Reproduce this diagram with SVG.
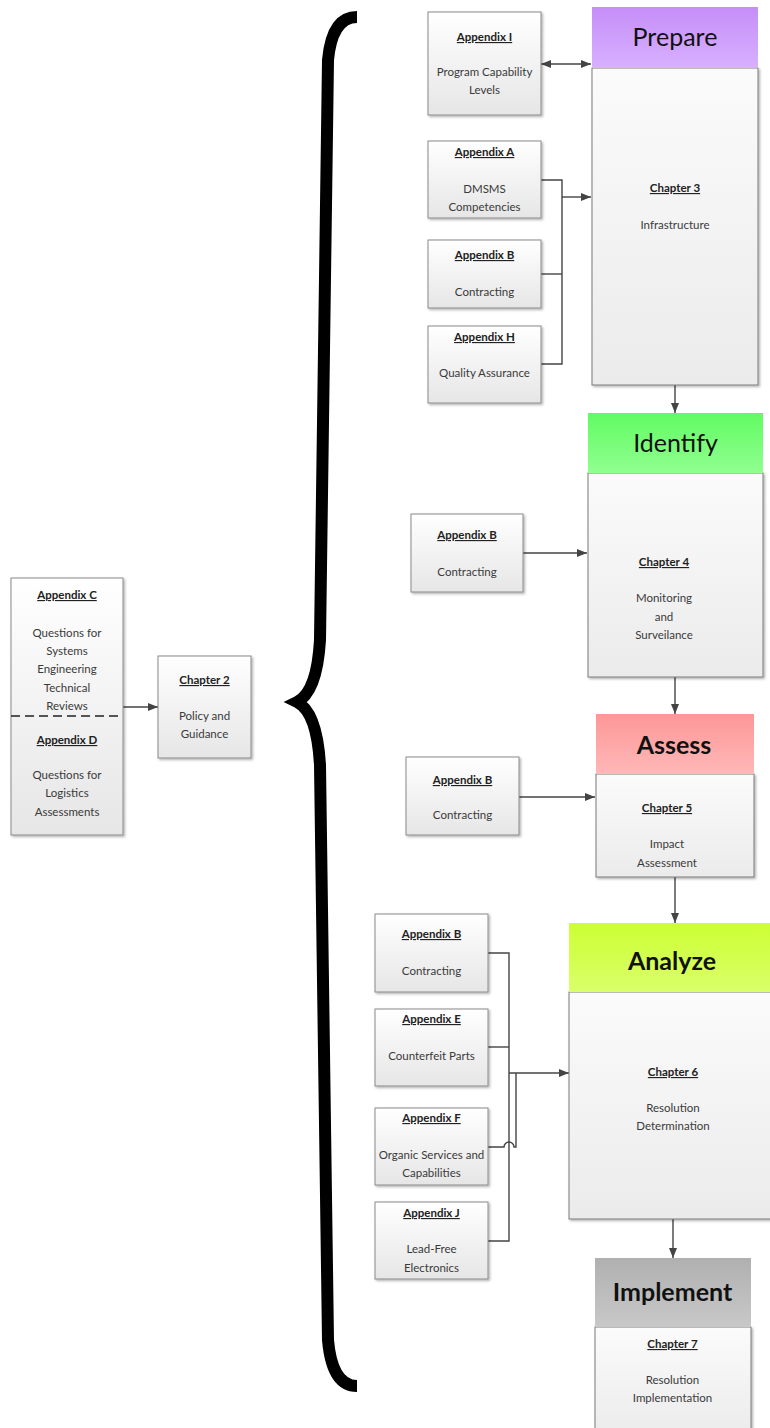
<svg xmlns="http://www.w3.org/2000/svg" width="770" height="1428" viewBox="0 0 770 1428">
<style>
.box{stroke:#8a8a8a;stroke-width:1;fill:url(#gBox);filter:url(#sh)}
.body{stroke:#7a7a7a;stroke-width:1;fill:url(#gBody);filter:url(#sh)}
text{font-family:Lato,"Open Sans","Liberation Sans",sans-serif;fill:#3a3a3a;text-anchor:middle;font-size:11.5px}
.t{font-weight:bold;text-decoration:underline;fill:#222}
.h{font-size:25px;fill:#111}
.hb{font-size:25px;font-weight:bold;fill:#111}
.c{fill:none;stroke:#444;stroke-width:1.4}
.a{marker-end:url(#ar)}
</style>
<defs>
<linearGradient id="gBox" x1="0" y1="0" x2="0" y2="1"><stop offset="0" stop-color="#ffffff"/><stop offset="1" stop-color="#e6e6e6"/></linearGradient>
<linearGradient id="gBody" x1="0" y1="0" x2="0" y2="1"><stop offset="0" stop-color="#fbfbfb"/><stop offset="1" stop-color="#ebebeb"/></linearGradient>
<linearGradient id="gP" x1="0" y1="0" x2="0" y2="1"><stop offset="0" stop-color="#c58ef8"/><stop offset="1" stop-color="#d8b0ff"/></linearGradient>
<linearGradient id="gI" x1="0" y1="0" x2="0" y2="1"><stop offset="0" stop-color="#62fb62"/><stop offset="1" stop-color="#90ff90"/></linearGradient>
<linearGradient id="gA" x1="0" y1="0" x2="0" y2="1"><stop offset="0" stop-color="#fd9797"/><stop offset="1" stop-color="#ffb8b8"/></linearGradient>
<linearGradient id="gN" x1="0" y1="0" x2="0" y2="1"><stop offset="0" stop-color="#ccff33"/><stop offset="1" stop-color="#daff6a"/></linearGradient>
<linearGradient id="gM" x1="0" y1="0" x2="0" y2="1"><stop offset="0" stop-color="#b0b0b0"/><stop offset="1" stop-color="#c8c8c8"/></linearGradient>
<filter id="sh" x="-10%" y="-10%" width="130%" height="130%"><feDropShadow dx="1.5" dy="1.5" stdDeviation="1" flood-color="#000" flood-opacity="0.3"/></filter>
<marker id="ar" viewBox="0 0 10 8" refX="10" refY="4" markerWidth="10" markerHeight="8" markerUnits="userSpaceOnUse" orient="auto-start-reverse"><path d="M0,0 L10,4 L0,8 z" fill="#444"/></marker>
</defs>
<rect width="770" height="1428" fill="#ffffff"/>

<g id="brace"><path d="M357,17 Q332,17 328,60 L320,640 Q317,692 297,702 Q317,712 320,765 L328,1340 Q332,1386 357,1386" fill="none" stroke="#000" stroke-width="12"/></g>

<g id="connectors">
<path class="c" d="M541,64 H591" marker-start="url(#ar)" marker-end="url(#ar)"/>
<path class="c" d="M541,180 H562 V364 H541"/>
<path class="c" d="M541,274 H562"/>
<path class="c a" d="M562,197 H591"/>
<path class="c a" d="M675,385 V413"/>
<path class="c a" d="M523,553 H587"/>
<path class="c a" d="M675,677 V714"/>
<path class="c a" d="M519,797 H595"/>
<path class="c a" d="M675,877 V923"/>
<path class="c" d="M488,953 H509 V1241 H488"/>
<path class="c" d="M488,1047 H509"/>
<path class="c" d="M488,1147 H504 A5,5 0 0 1 514,1147 H516 V1073"/>
<path class="c a" d="M509,1073 H569"/>
<path class="c a" d="M673,1219 V1258"/>
<path class="c a" d="M123,707 H158"/>
</g>

<g id="prepare">
<rect class="body" x="592" y="68" width="166" height="317"/>
<rect x="592" y="7" width="166" height="61" fill="url(#gP)"/>
<text class="h" x="675" y="46">Prepare</text>
<text class="t" x="675" y="192">Chapter 3</text>
<text x="675" y="229">Infrastructure</text>
</g>
<g id="appI">
<rect class="box" x="428" y="12" width="113" height="103"/>
<text class="t" x="484.5" y="41">Appendix I</text>
<text x="484.5" y="76">Program Capability</text>
<text x="484.5" y="94">Levels</text>
</g>
<g id="appA">
<rect class="box" x="428" y="141" width="113" height="77"/>
<text class="t" x="484.5" y="156">Appendix A</text>
<text x="484.5" y="193">DMSMS</text>
<text x="484.5" y="211">Competencies</text>
</g>
<g id="appB1">
<rect class="box" x="428" y="240" width="113" height="68"/>
<text class="t" x="484.5" y="259">Appendix B</text>
<text x="484.5" y="296">Contracting</text>
</g>
<g id="appH">
<rect class="box" x="428" y="326" width="113" height="77"/>
<text class="t" x="484.5" y="341">Appendix H</text>
<text x="484.5" y="377">Quality Assurance</text>
</g>

<g id="identify">
<rect class="body" x="588" y="473" width="175" height="204"/>
<rect x="588" y="413" width="175" height="60" fill="url(#gI)"/>
<text class="h" x="675.5" y="452">Identify</text>
<text class="t" x="664" y="566">Chapter 4</text>
<text x="664" y="602">Monitoring</text>
<text x="664" y="621">and</text>
<text x="664" y="639">Surveilance</text>
</g>
<g id="appB2">
<rect class="box" x="411" y="514" width="112" height="78"/>
<text class="t" x="467" y="539">Appendix B</text>
<text x="467" y="576">Contracting</text>
</g>

<g id="assess">
<rect class="body" x="596" y="774" width="158" height="103"/>
<rect x="596" y="714" width="158" height="60" fill="url(#gA)"/>
<text class="hb" x="674" y="754">Assess</text>
<text class="t" x="667" y="812">Chapter 5</text>
<text x="667" y="848">Impact</text>
<text x="667" y="867">Assessment</text>
</g>
<g id="appB3">
<rect class="box" x="406" y="757" width="113" height="78"/>
<text class="t" x="462.5" y="784">Appendix B</text>
<text x="462.5" y="819">Contracting</text>
</g>

<g id="analyze">
<rect class="body" x="569" y="992" width="210" height="227"/>
<rect x="569" y="923" width="210" height="69" fill="url(#gN)"/>
<text class="hb" x="672" y="970">Analyze</text>
<text class="t" x="673" y="1076">Chapter 6</text>
<text x="673" y="1112">Resolution</text>
<text x="673" y="1130">Determination</text>
</g>
<g id="appB4">
<rect class="box" x="375" y="914" width="113" height="78"/>
<text class="t" x="431.5" y="938">Appendix B</text>
<text x="431.5" y="975">Contracting</text>
</g>
<g id="appE">
<rect class="box" x="375" y="1009" width="113" height="77"/>
<text class="t" x="431.5" y="1023">Appendix E</text>
<text x="431.5" y="1060">Counterfeit Parts</text>
</g>
<g id="appF">
<rect class="box" x="375" y="1108" width="113" height="77"/>
<text class="t" x="431.5" y="1122">Appendix F</text>
<text x="431.5" y="1159">Organic Services and</text>
<text x="431.5" y="1177">Capabilities</text>
</g>
<g id="appJ">
<rect class="box" x="375" y="1202" width="113" height="77"/>
<text class="t" x="431.5" y="1217">Appendix J</text>
<text x="431.5" y="1253">Lead-Free</text>
<text x="431.5" y="1272">Electronics</text>
</g>

<g id="implement">
<rect class="body" x="595" y="1327" width="156" height="110"/>
<rect x="595" y="1258" width="156" height="69" fill="url(#gM)"/>
<text class="hb" x="672.5" y="1301">Implement</text>
<text class="t" x="672.5" y="1348">Chapter 7</text>
<text x="672.5" y="1384">Resolution</text>
<text x="672.5" y="1402">Implementation</text>
</g>

<g id="appCD">
<rect class="box" x="11" y="578" width="112" height="257"/>
<line x1="11" y1="716" x2="123" y2="716" stroke="#222" stroke-width="1.4" stroke-dasharray="9,5"/>
<text class="t" x="67" y="599">Appendix C</text>
<text x="67" y="637">Questions for</text>
<text x="67" y="655">Systems</text>
<text x="67" y="673">Engineering</text>
<text x="67" y="692">Technical</text>
<text x="67" y="710">Reviews</text>
<text class="t" x="67" y="744">Appendix D</text>
<text x="67" y="779">Questions for</text>
<text x="67" y="797">Logistics</text>
<text x="67" y="816">Assessments</text>
</g>
<g id="ch2">
<rect class="box" x="158" y="656" width="93" height="102"/>
<text class="t" x="204.5" y="684">Chapter 2</text>
<text x="204.5" y="720">Policy and</text>
<text x="204.5" y="738">Guidance</text>
</g>
</svg>
